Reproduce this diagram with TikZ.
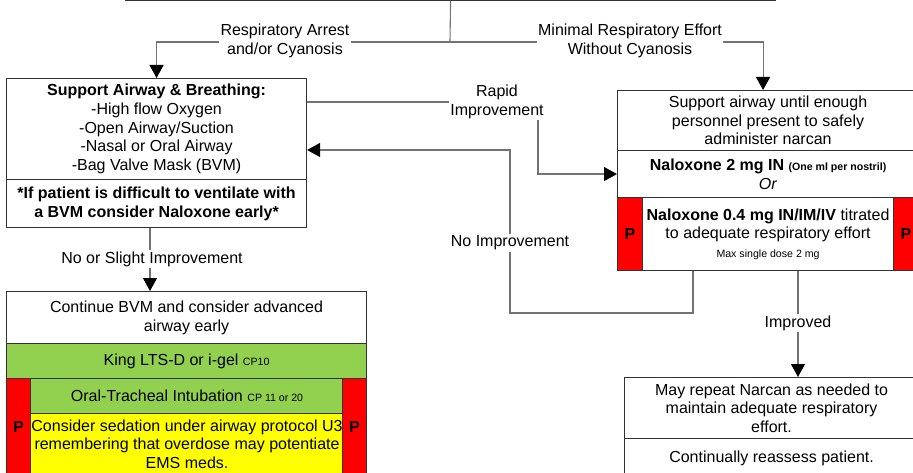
\documentclass[tikz,border=0pt]{standalone}
\usepackage{fontspec}
\setmainfont{Liberation Sans}
\usetikzlibrary{arrows.meta}
\definecolor{stepgreen}{HTML}{92D050}
\definecolor{stepyellow}{HTML}{FFFF00}
\definecolor{stepred}{HTML}{FF0000}
\newcommand\mainsz{\fontsize{16}{18.7}\selectfont}
\newcommand\smallsz{\fontsize{10.6}{12}\selectfont}
\begin{document}
\begin{tikzpicture}[x=1pt,y=-1pt,
  sec/.style={draw=black!80, line width=1.1pt, anchor=north west, inner sep=0pt,
              align=center, font=\mainsz},
  pcol/.style={sec, fill=stepred, font=\mainsz\bfseries},
  conn/.style={draw=black!55, line width=1.1pt},
  arr/.style={conn, -{Triangle[width=14pt,length=13pt,color=black]}},
  lbl/.style={fill=white, inner sep=1.5pt, align=center, font=\mainsz}]
\clip (0,0) rectangle (913,473);

% box above the split
\node[sec, anchor=south west, minimum width=650pt, minimum height=40pt] (top) at (125,1) {};

% support airway & breathing
\node[sec, minimum width=300pt, minimum height=101pt] (b1a) at (6,78)
  {\textbf{Support Airway \& Breathing:}\\-High flow Oxygen\\-Open Airway/Suction\\-Nasal or Oral Airway\\-Bag Valve Mask (BVM)};
\node[sec, minimum width=300pt, minimum height=48pt, font=\mainsz\bfseries] (b1b) at (6,179)
  {*If patient is difficult to ventilate with\\a BVM consider Naloxone early*};

% naloxone box
\node[sec, minimum width=301pt, minimum height=60pt] (r1a) at (617,90)
  {Support airway until enough\\personnel present to safely\\administer narcan};
\node[sec, minimum width=301pt, minimum height=47pt] (r1b) at (617,150)
  {\textbf{Naloxone 2 mg IN} {\smallsz\bfseries (One ml per nostril)}\\\textit{Or}};
\node[sec, minimum width=301pt, minimum height=73pt] (r1c) at (617,197)
  {\textbf{Naloxone 0.4 mg IN/IM/IV} titrated\\to adequate respiratory effort\\{\smallsz Max single dose 2 mg}};
\node[pcol, minimum width=25pt, minimum height=73pt] (r1p) at (617,197) {P};
\node[pcol, minimum width=25pt, minimum height=73pt] (r1q) at (893,197) {P};

% advanced airway box
\node[sec, minimum width=360pt, minimum height=52pt] (l2a) at (6,291)
  {Continue BVM and consider advanced\\airway early};
\node[sec, fill=stepgreen, minimum width=360pt, minimum height=35pt] (l2b) at (6,343)
  {King LTS-D or i-gel {\smallsz CP10}};
\node[sec, fill=stepgreen, minimum width=313pt, minimum height=35pt] (l2c) at (30,378)
  {Oral-Tracheal Intubation {\smallsz CP 11 or 20}};
\node[sec, fill=stepyellow, minimum width=313pt, minimum height=61pt] (l2d) at (30,413)
  {Consider sedation under airway protocol U3\\remembering that overdose may potentiate\\EMS meds.};
\node[pcol, minimum width=24pt, minimum height=96pt] (l2p) at (6,378) {P};
\node[pcol, minimum width=24pt, minimum height=96pt] (l2q) at (342,378) {P};

% repeat narcan box
\node[sec, minimum width=294pt, minimum height=61pt] (r2a) at (624,377)
  {May repeat Narcan as needed to\\maintain adequate respiratory\\effort.};
\node[sec, minimum width=294pt, minimum height=40pt] (r2b) at (624,438)
  {Continually reassess patient.};

% connectors
\coordinate (split) at (450,42);
\draw[conn] (top.south) -- (split);
\draw[arr] (split) -| (b1a.north);
\draw[arr] (split) -| ([xshift=-5pt]r1a.north);

\coordinate (rcor) at (538,102);
\draw[arr] (b1a.east |- rcor) -- (rcor) |- (r1b.west);

\coordinate (nlow) at (693,313);
\coordinate (nup) at (510,150);
\draw[arr] (r1c.south -| nlow) -- (nlow) -| (nup) -- (b1a.east |- nup);

\coordinate (imp) at (798,323);
\draw[arr] (r1c.south -| imp) -- (r2a.north -| imp);

\coordinate (nsl) at (150,259);
\draw[arr] (b1b.south -| nsl) -- (l2a.north -| nsl);

% connector labels
\node[lbl] (lra) at (285,41) {Respiratory Arrest\\and/or Cyanosis};
\node[lbl] (lmr) at (630,41) {Minimal Respiratory Effort\\Without Cyanosis};
\node[lbl] (lri) at (497,102) {Rapid\\Improvement};
\node[lbl] (lni) at (510,243) {No Improvement};
\node[lbl] (lns) at (152,259) {No or Slight Improvement};
\node[lbl] (lim) at (798,323) {Improved};
\end{tikzpicture}
\end{document}
